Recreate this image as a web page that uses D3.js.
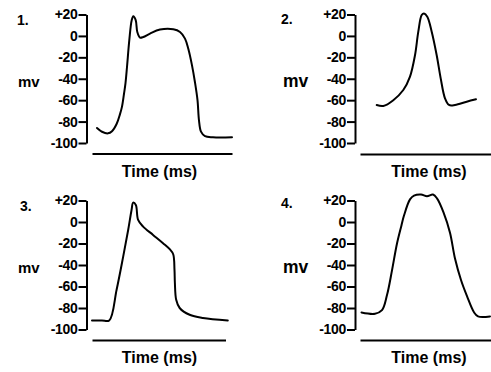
<!DOCTYPE html>
<html>
<head>
<meta charset="utf-8">
<script src="https://cdn.jsdelivr.net/npm/d3@7"></script>
<style>
  html, body { margin: 0; padding: 0; background: #fff; }
  svg { display: block; }
  text { font-family: "Liberation Sans", Arial, sans-serif; font-weight: bold; fill: #000; }
  .tick text { font-size: 14px; }
</style>
</head>
<body>
<svg id="chart" width="491" height="372"></svg>
<script>
// ---- data ----
const panelLabels = ["1.", "2.", "3.", "4."];
const yTickValues = [20, 0, -20, -40, -60, -80, -100];
const yTickLabels = ["+20", "0", "-20", "-40", "-60", "-80", "-100"];
const yLabel = "mv";
const xLabel = "Time (ms)";
const timeMax = [140, 131, 134, 131];

const time1 = [5, 10, 16, 20, 24.7, 28, 30, 32, 33.5, 35, 37.3, 39.7, 41.3, 43.7, 45.3, 48, 51.3, 58, 68, 81.3, 88, 93, 96.3, 100, 103, 105.5, 107, 109, 113, 121, 140];
const mv1   = [-86, -89.5, -91, -89, -82, -73, -66, -54, -44, -29, -4, 14.7, 18.4, 14.7, 3.7, -1.6, -1, 2.2, 5.9, 6.2, 3.7, -2.5, -12, -27.5, -43.5, -60, -79, -89.4, -93.6, -94.7, -94.7];

const time2 = [16.7, 23.3, 33.3, 43.3, 50, 55, 58.3, 61.7, 64, 67.3, 71.7, 76.7, 80.7, 85, 89, 95, 106.7, 116];
const mv2   = [-64.5, -65.4, -60, -50.5, -38, -18, 4, 19.5, 21, 18, 4, -18, -39.6, -58.3, -64.5, -64.5, -61.4, -59.2];

const time3 = [0, 10, 17.3, 24.7, 31.3, 36.3, 39.7, 41.3, 44, 46.3, 51.3, 61.3, 71.3, 78, 81.5, 82.8, 83.2, 84.5, 88, 98, 111.3, 136.3];
const mv3   = [-91.6, -91.6, -91.6, -63, -32.2, -7.4, 11.2, 18, 15.8, 1.9, -4.3, -12, -19.7, -25.3, -30, -44.5, -56.8, -72.3, -80, -86.3, -89.3, -91.6];

const time4 = [1.5, 15, 22, 27, 32, 37, 41.5, 44, 50, 54, 61, 67, 73, 77, 83.5, 90, 95, 101, 107, 114, 118, 130];
const mv4   = [-84.1, -85.3, -82, -68, -45, -20, -3, 6, 21, 24.5, 25.5, 24, 25.5, 22, 9, -10, -34, -54, -69, -84, -87.8, -87.8];

const seriesTime = [time1, time2, time3, time4];
const seriesMv = [mv1, mv2, mv3, mv4];

// ---- layout ----
const layouts = [
  {axisX: 86.5, yTop: 14.5,  yBot: 143,   lineY: 153.5, x0: 92,  x1: 232,   titleX: 159.5, titleY: 177, mvX: 18,  mvY: 87,  mvSize: 15,   numX: 17,  numY: 25},
  {axisX: 355,  yTop: 14.5,  yBot: 143,   lineY: 154,   x0: 360, x1: 491,   titleX: 429,   titleY: 177, mvX: 283, mvY: 87,  mvSize: 17.5, numX: 281, numY: 24},
  {axisX: 86.5, yTop: 200.5, yBot: 329.5, lineY: 340,   x0: 92,  x1: 225.5, titleX: 159.5, titleY: 363, mvX: 18,  mvY: 273, mvSize: 15,   numX: 20,  numY: 211},
  {axisX: 355,  yTop: 200.5, yBot: 329.5, lineY: 340,   x0: 360, x1: 491,   titleX: 429,   titleY: 363, mvX: 283, mvY: 273, mvSize: 17.5, numX: 281, numY: 208}
];

const svg = d3.select("#chart");

layouts.forEach((L, i) => {
  const g = svg.append("g");
  const y = d3.scaleLinear().domain([20, -100]).range([L.yTop, L.yBot]);
  const x = d3.scaleLinear().domain([0, timeMax[i]]).range([L.x0, L.x1]);

  const yAxis = d3.axisLeft(y)
    .tickValues(yTickValues)
    .tickFormat((d, k) => yTickLabels[k])
    .tickSize(8).tickSizeOuter(0).tickPadding(1);
  const ya = g.append("g").attr("transform", `translate(${L.axisX},0)`).call(yAxis);
  ya.attr("font-size", null).attr("font-family", null);
  ya.select(".domain").attr("stroke", "#000").attr("stroke-width", 2);
  ya.selectAll(".tick line").attr("stroke", "#000").attr("stroke-width", 2);
  ya.selectAll(".tick text")
    .style("font-size", "14px")
    .style("letter-spacing", "-0.3px")
    .style("font-weight", "bold")
    .style("fill", "#000");

  const xAxis = d3.axisBottom(x).tickValues([]).tickSizeOuter(0);
  const xa = g.append("g").attr("transform", `translate(0,${L.lineY})`).call(xAxis);
  xa.select(".domain").attr("stroke", "#000").attr("stroke-width", 2);

  const pts = seriesTime[i].map((t, k) => [t, seriesMv[i][k]]);
  const line = d3.line().x(d => x(d[0])).y(d => y(d[1])).curve(d3.curveCatmullRom.alpha(0.5));
  g.append("path").datum(pts).attr("d", line)
    .attr("fill", "none").attr("stroke", "#000").attr("stroke-width", 2)
    .attr("stroke-linejoin", "round").attr("stroke-linecap", "round");

  g.append("text").attr("x", L.titleX).attr("y", L.titleY).attr("text-anchor", "middle").style("font-size", "16px").text(xLabel);
  g.append("text").attr("x", L.mvX).attr("y", L.mvY).style("font-size", L.mvSize + "px").text(yLabel);
  g.append("text").attr("x", L.numX).attr("y", L.numY).style("font-size", "14px").text(panelLabels[i]);
});
</script>
</body>
</html>
